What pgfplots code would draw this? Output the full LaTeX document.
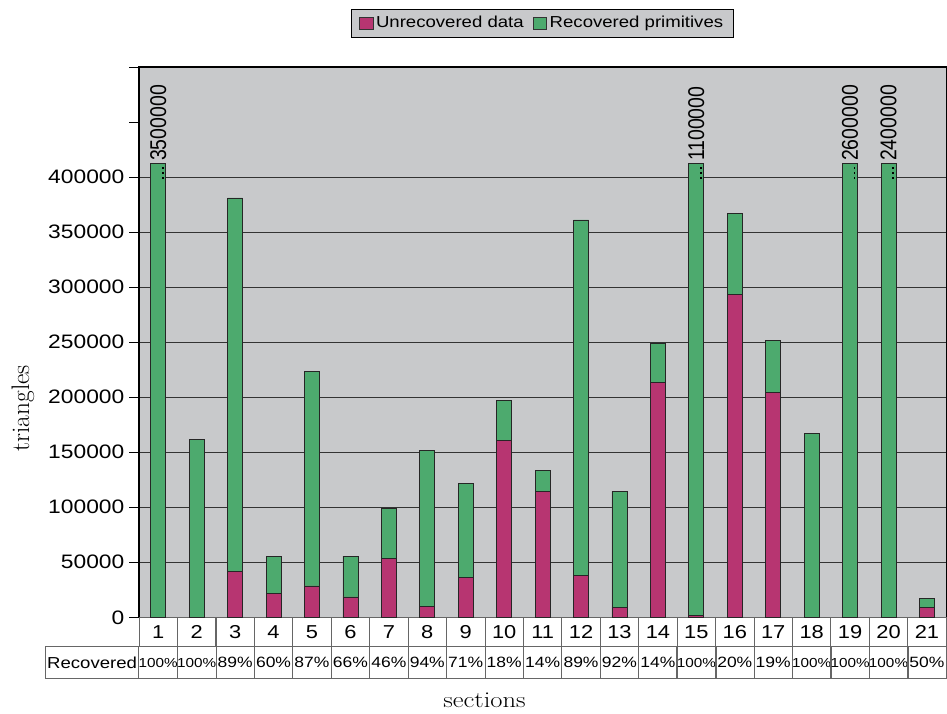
\documentclass[border=0pt]{standalone}
\usepackage{pgfplots}
\pgfplotsset{compat=1.18}
\usepackage{fontspec}
\newfontfamily\arialw[FakeStretch=1.17]{Liberation Sans}
\newfontfamily\arial{Liberation Sans}
\definecolor{bg}{RGB}{200,201,203}
\definecolor{mag}{RGB}{183,53,113}
\definecolor{grn}{RGB}{77,170,110}
\newcommand\tickfont{\arialw\fontsize{14.6}{16}\selectfont}
\newcommand\rowfont{\arialw\fontsize{14}{16}\selectfont}
\newcommand\pctfont{\arialw\fontsize{11.2}{13}\selectfont}
\newcommand\hp{{\fontsize{9.8}{11}\selectfont 100\%}}
\pgfplotstableread{
x unrec rec
1 0 412000
2 0 162000
3 41500 339500
4 22000 33500
5 28500 194500
6 18500 37000
7 53300 45700
8 10000 142000
9 36000 86000
10 161000 36000
11 114000 19500
12 38000 323000
13 9000 105500
14 213500 35500
15 1800 410200
16 293000 74000
17 204000 47500
18 0 167000
19 0 412000
20 0 412000
21 8700 8600
}\datatable
\begin{document}
\begin{tikzpicture}
\begin{axis}[
  scale only axis, width=605pt, height=412.5pt,
  xmin=0.5, xmax=21.5, ymin=0, ymax=500000,
  clip=false,
  axis background/.style={fill=bg},
  axis line style={black, line width=0.8pt},
  ybar stacked, bar width=11.25pt,
  tick align=outside, major tick length=7.5pt,
  tick style={black, line width=0.6pt},
  scaled y ticks=false,
  ytick={0,50000,...,400000},
  yticklabels={0,50000,100000,150000,200000,250000,300000,350000,400000},
  yticklabel style={font=\tickfont},
  extra y ticks={450000,500000}, extra y tick labels={},
  extra y tick style={grid=none},
  ymajorgrids, grid style={black!80, line width=0.6pt},
  xtick={1,...,21},
  xticklabels={1,2,3,4,5,6,7,8,9,10,11,12,13,14,15,16,17,18,19,20,21},
  xtick style={draw=none},
  xticklabel style={font=\rowfont, draw=black!60, line width=0.6pt, minimum width=28.8pt, minimum height=21.75pt, inner sep=0pt, anchor=north, yshift=7.5pt},
  extra x ticks={1,2,3,4,5,6,7,8,9,10,11,12,13,14,15,16,17,18,19,20,21},
  extra x tick labels={\hp,\hp,89\%,60\%,87\%,66\%,46\%,94\%,71\%,18\%,14\%,89\%,92\%,14\%,\hp,20\%,19\%,\hp,\hp,\hp,50\%},
  extra x tick style={major tick length=0pt, xticklabel style={yshift=-29.25pt, minimum height=24pt, font=\pctfont}},
  xlabel={\scalebox{1.17}[1]{sections}},
  xlabel style={at={(rel axis cs:0.428,0)}, anchor=center, yshift=-62pt, inner sep=3pt, font=\fontsize{17}{20}\selectfont},
  ylabel={triangles},
  ylabel style={at={(rel axis cs:0,0.38)}, anchor=center, yshift=87pt, inner sep=3pt, font=\fontsize{19}{22}\selectfont},
  legend style={at={(0.5,1)}, anchor=south, yshift=22pt, fill=bg, draw=black, line width=0.6pt, legend columns=2, font=\arialw\fontsize{11.9}{14}\selectfont, inner xsep=6pt, inner ysep=3.5pt, /tikz/every even column/.append style={column sep=5pt}},
  legend image code/.code={\draw[#1, draw=black!80, line width=0.5pt] (0pt,-4.5pt) rectangle (10pt,4.5pt);},
]
\addplot[fill=mag, draw=black!85, line width=0.6pt] table[x=x, y=unrec] {\datatable};
\addplot[fill=grn, draw=black!85, line width=0.6pt] table[x=x, y=rec] {\datatable};
\legend{Unrecovered data, Recovered primitives}
\foreach \i/\lab in {1/3500000, 15/1100000, 19/2600000, 20/2400000} {
  \edef\tmp{\noexpand\node[rotate=90, anchor=west, inner sep=2pt, font=\noexpand\arial\noexpand\fontsize{14.6}{16}\noexpand\selectfont] at (axis cs:\i,412000) {\noexpand\scalebox{1}[1.17]{\lab}};}
  \tmp
}
\coordinate (dA1) at (axis cs:1,398500);
\coordinate (dB1) at (axis cs:1,410000);
\coordinate (dA2) at (axis cs:15,398500);
\coordinate (dB2) at (axis cs:15,410000);
\coordinate (dA3) at (axis cs:19,398500);
\coordinate (dB3) at (axis cs:19,410000);
\coordinate (dA4) at (axis cs:20,398500);
\coordinate (dB4) at (axis cs:20,410000);
\node[draw=black!60, line width=0.6pt, minimum width=69.75pt, minimum height=24pt, inner sep=0pt, anchor=north east, font=\arialw\fontsize{11.9}{14}\selectfont] at (rel axis cs:0,0) [yshift=-21.75pt] {Recovered};
\coordinate (BL) at (rel axis cs:0,0);
\coordinate (TR) at (rel axis cs:1,1);
\end{axis}
\foreach \k in {1,2,3,4} {
  \draw[black, line width=1.4pt, dash pattern=on 1.4pt off 2.2pt] ([xshift=3.3pt]dA\k) -- ([xshift=3.3pt]dB\k);
}
\pgfresetboundingbox
\path ([xshift=-104.2pt,yshift=-72pt]BL) rectangle ([xshift=0.6pt,yshift=50.2pt]TR);
\end{tikzpicture}
\end{document}
